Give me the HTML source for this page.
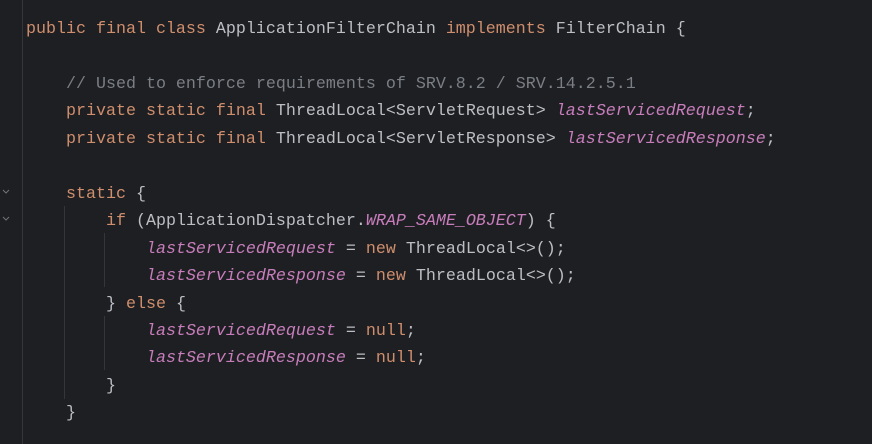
<!DOCTYPE html>
<html><head><style>
body{margin:0;width:872px;height:444px;background:#1e1f22;overflow:hidden;position:relative;font-family:"Liberation Mono",monospace;}
pre{position:absolute;left:26px;top:16px;margin:0;font-family:"Liberation Mono",monospace;font-size:16.67px;line-height:27.45px;color:#bcbec4;}
.k{color:#cf8e6d}.c{color:#7a7e85}.f{color:#c77dbb;font-style:italic}
.g{position:absolute;width:1px;background:#34363a}
.fold{position:absolute;left:2px;width:8px;height:8px;}
</style></head><body>
<div class="g" style="left:22px;top:0;height:444px"></div>
<div class="g" style="left:64px;top:206px;height:193px"></div>
<div class="g" style="left:104px;top:233px;height:54px"></div>
<div class="g" style="left:104px;top:316px;height:54px"></div>
<svg class="fold" style="top:188px" viewBox="0 0 8 8"><path d="M1 2 L4 5 L7 2" stroke="#6f737a" fill="none" stroke-width="1"/></svg>
<svg class="fold" style="top:215px" viewBox="0 0 8 8"><path d="M1 2 L4 5 L7 2" stroke="#6f737a" fill="none" stroke-width="1"/></svg>
<pre><span class="k">public final class</span> ApplicationFilterChain <span class="k">implements</span> FilterChain {

    <span class="c">// Used to enforce requirements of SRV.8.2 / SRV.14.2.5.1</span>
    <span class="k">private static final</span> ThreadLocal&lt;ServletRequest&gt; <span class="f">lastServicedRequest</span>;
    <span class="k">private static final</span> ThreadLocal&lt;ServletResponse&gt; <span class="f">lastServicedResponse</span>;

    <span class="k">static</span> {
        <span class="k">if</span> (ApplicationDispatcher.<span class="f">WRAP_SAME_OBJECT</span>) {
            <span class="f">lastServicedRequest</span> = <span class="k">new</span> ThreadLocal&lt;&gt;();
            <span class="f">lastServicedResponse</span> = <span class="k">new</span> ThreadLocal&lt;&gt;();
        } <span class="k">else</span> {
            <span class="f">lastServicedRequest</span> = <span class="k">null</span>;
            <span class="f">lastServicedResponse</span> = <span class="k">null</span>;
        }
    }</pre>
</body></html>
